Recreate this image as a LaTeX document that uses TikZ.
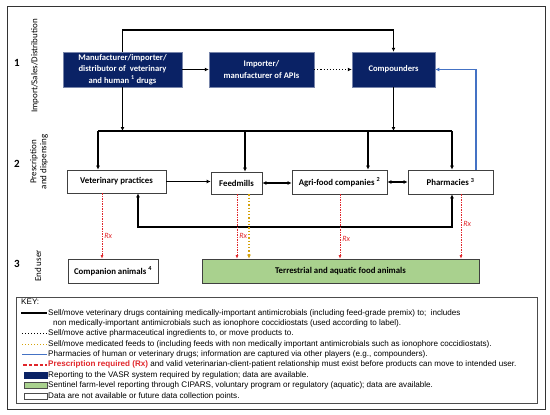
\documentclass[tikz,border=0pt]{standalone}
\usepackage{fontspec}
\setmainfont{Carlito}
\newfontfamily\keyfont{Liberation Sans}
\usetikzlibrary{arrows.meta,calc}
\definecolor{vasrblue}{HTML}{0A2265}
\definecolor{ciparsgreen}{HTML}{A9D18E}
\definecolor{rxred}{HTML}{E0262B}
\definecolor{feedgold}{HTML}{D4A20C}
\definecolor{pharmblue}{HTML}{4472C4}

\begin{document}
\begin{tikzpicture}[x=1pt,y=-1pt,
    navybox/.style={fill=vasrblue,draw=vasrblue!55!white,line width=0.5pt,text=white,
      font=\fontsize{8.6}{11.5}\selectfont\bfseries,align=center,inner sep=1pt},
    plainbox/.style={fill=white,draw=black!75,line width=0.7pt,
      font=\fontsize{8.8}{10}\selectfont\bfseries,inner sep=1pt},
    greenbox/.style={plainbox,fill=ciparsgreen},
    line/.style={line width=1.1pt},
    flow/.style={line,-{Latex[length=4pt,width=4pt]}},
    both/.style={line,{Latex[length=4pt,width=4pt]}-{Latex[length=4pt,width=4pt]}},
    apiflow/.style={line,dotted,-{Latex[length=4pt,width=4pt]}},
    pharmline/.style={draw=pharmblue,line width=1.1pt,-{Latex[length=4pt,width=4pt]}},
    rx/.style={draw=rxred,line width=0.6pt,dash pattern=on 1.5pt off 1pt,-{Latex[length=3.5pt,width=3pt]}},
    feedline/.style={draw=feedgold,line width=1.3pt,dotted,-{Latex[length=4pt,width=4pt]}},
    rxlabel/.style={text=rxred,font=\fontsize{8}{9}\selectfont\itshape,inner sep=2pt},
    level/.style={font=\fontsize{11}{12}\selectfont\bfseries},
    stage/.style={rotate=90,font=\fontsize{9}{10}\selectfont,align=center},
    keytext/.style={anchor=west,inner sep=0pt,font=\keyfont\fontsize{8.1}{9}\selectfont}
  ]
    \useasboundingbox (0,0) rectangle (550,415);
    \draw[black!80,line width=0.6pt] (7,6) rectangle (545,409);

    % levels
    \node[level] (l1) at (17,63) {1};
    \node[level] (l2) at (17,164) {2};
    \node[level] (l3) at (17,264) {3};
    \node[stage] (s1) at (35,66) {Import/Sales/Distribution};
    \node[stage] (s2) at (39,162) {Prescription\\and dispensing};
    \node[stage] (s3) at (38,266) {End user};

    % boxes
    \node[navybox,minimum width=119,minimum height=35] (maker) at (122.5,69.5)
      {Manufacturer/importer/\\distributor of \ veterinary\\and human \textsuperscript{1} drugs};
    \node[navybox,minimum width=105,minimum height=35] (api) at (261.5,69.5)
      {Importer/\\manufacturer of APIs};
    \node[navybox,minimum width=83,minimum height=35] (comp) at (393.5,69.5) {Compounders};
    \node[plainbox,minimum width=99,minimum height=23] (vet) at (116.5,181.5) {Veterinary practices};
    \node[plainbox,minimum width=51,minimum height=22] (feed) at (236.5,183) {Feedmills};
    \node[plainbox,minimum width=95,minimum height=24] (agri) at (339.5,182)
      {Agri-food companies \textsuperscript{2}};
    \node[plainbox,minimum width=85,minimum height=24] (pharm) at (450.5,182)
      {Pharmacies \textsuperscript{3}};
    \node[plainbox,minimum width=90,minimum height=24] (pet) at (113,271)
      {Companion animals \textsuperscript{4}};
    \node[greenbox,minimum width=277,minimum height=24] (food) at (340.5,271)
      {Terrestrial and aquatic food animals};

    % level 1 connectors
    \coordinate (top) at (0,30);
    \draw[flow] (maker.north) |- (comp.north |- top) -- (comp.north);
    \draw[flow] (maker.east) -- (api.west);
    \draw[apiflow] (api.east) -- (comp.west);
    \draw[pharmline] ([xshift=25.5pt]pharm.north) |- (comp.east);

    % distribution bus
    \coordinate (bus) at (0,131);
    \coordinate (vd) at (98,131);
    \coordinate (fd) at (245,131);
    \coordinate (ad) at (368,131);
    \coordinate (pd) at (452,131);
    \draw[flow] (maker.south) -- (maker.south |- bus);
    \draw[flow] (comp.south) -- (comp.south |- bus);
    \draw[line] (vd) -- (pd);
    \foreach \d/\n in {vd/vet,fd/feed,ad/agri,pd/pharm}
      \draw[flow] (\d) -- (\d |- \n.north);

    % level 2 connectors
    \draw[flow] (vet.east) -- (vet.east -| feed.west);
    \draw[both] (feed.east) -- (feed.east -| agri.west);
    \draw[both] (agri.east) -- (agri.east -| pharm.west);
    \coordinate (loop) at (0,227);
    \coordinate (vl) at ($(vet.south)+(21.5,0)$);
    \coordinate (pl) at ($(pharm.south)+(1.5,0)$);
    \draw[both] (vl) |- (loop -| pl) -- (pl);

    % prescriptions
    \coordinate (vr) at ($(vet.south)+(-14.5,0)$);
    \coordinate (fr) at ($(feed.south)+(0.5,0)$);
    \coordinate (fg) at ($(feed.south)+(12.5,0)$);
    \coordinate (ar) at ($(agri.south)+(0.5,0)$);
    \coordinate (pr) at ($(pharm.south)+(10.5,0)$);
    \draw[rx] (vr) -- (vr |- pet.north) node[rxlabel,pos=.65,right] {Rx};
    \draw[rx] (fr) -- (fr |- food.north) node[rxlabel,pos=.65,right] {Rx};
    \draw[feedline] (fg) -- (fg |- food.north);
    \draw[rx] (ar) -- (ar |- food.north) node[rxlabel,pos=.69,right] {Rx};
    \draw[rx] (pr) -- (pr |- food.north) node[rxlabel,pos=.46,right] {Rx};

    % key
    \draw[black!70,line width=0.6pt] (16,297) rectangle (537,403);
    \node[keytext] (key) at (21,302) {KEY:};
    \draw[line width=1.2pt] (21,313) -- (47,313);
    \node[keytext] (k1) at (48,313) {Sell/move veterinary drugs containing medically-important antimicrobials (including feed-grade premix) to;\ \ includes};
    \node[keytext] (k1b) at (53,323.4) {non medically-important antimicrobials such as ionophore coccidiostats (used according to label).};
    \draw[line width=1pt,dotted] (22,333.8) -- (47,333.8);
    \node[keytext] (k2) at (48,333.8) {Sell/move active pharmaceutical ingredients to, or move products to.};
    \draw[feedgold,line width=1pt,dotted] (22,344.1) -- (47,344.1);
    \node[keytext] (k3) at (48,344.1) {Sell/move medicated feeds to (including feeds with non medically important antimicrobials such as ionophore coccidiostats).};
    \draw[pharmblue,line width=1pt] (22,354.5) -- (47,354.5);
    \node[keytext] (k4) at (48,354.5) {Pharmacies of human or veterinary drugs; information are captured via other players (e.g., compounders).};
    \draw[rxred,line width=1.5pt,dash pattern=on 3.5pt off 2pt] (23,364.9) -- (47,364.9);
    \node[keytext] (k5) at (48,364.9) {\textcolor{rxred}{\bfseries Prescription required (Rx)} and valid veterinarian-client-patient relationship must exist before products can move to intended user.};
    \draw[fill=vasrblue,draw=vasrblue] (24,372.3) rectangle (47,378.3);
    \node[keytext] (k6) at (48,375.3) {Reporting to the VASR system required by regulation; data are available.};
    \draw[fill=ciparsgreen,draw=black!70,line width=0.5pt] (24,382.6) rectangle (47,388.6);
    \node[keytext] (k7) at (48,385.6) {Sentinel farm-level reporting through CIPARS, voluntary program or regulatory (aquatic); data are available.};
    \draw[fill=white,draw=black!70,line width=0.5pt] (24,393) rectangle (47,399);
    \node[keytext] (k8) at (48,396) {Data are not available or future data collection points.};
\end{tikzpicture}
\end{document}
